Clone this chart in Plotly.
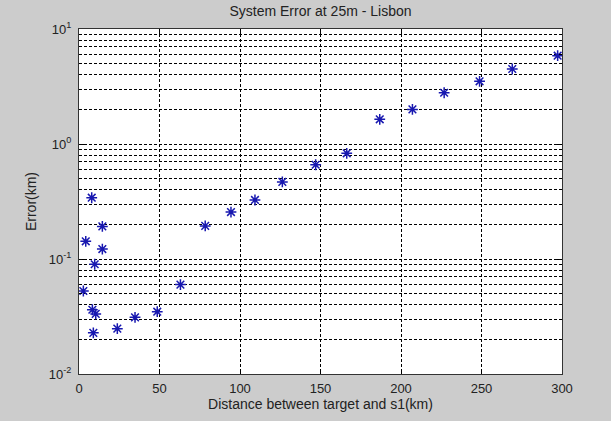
import plotly.graph_objects as go

distance_km = [2.7, 4.2, 7.9, 8.3, 8.9, 9.75, 10.4, 14.5, 14.5, 23.8, 34.8, 48.6,
               63.0, 78.4, 94.4, 109.3, 126.3, 147.0, 166.3, 186.8, 207.1, 226.8,
               248.8, 269.1, 297.3]
error_km = [0.0527, 0.1426, 0.341, 0.0362, 0.0228, 0.090, 0.0333, 0.192, 0.122,
            0.0248, 0.0311, 0.0348, 0.0599, 0.194, 0.256, 0.326, 0.468, 0.660,
            0.830, 1.64, 2.00, 2.79, 3.51, 4.49, 5.86]

x_ticks = [0, 50, 100, 150, 200, 250, 300]
y_major = [0.01, 0.1, 1, 10]
y_major_text = ["10<sup>-2</sup>", "10<sup>-1</sup>", "10<sup>0</sup>", "10<sup>1</sup>"]
y_minor = [m * d for d in [0.01, 0.1, 1] for m in range(2, 10)]

fig = go.Figure()
fig.add_trace(go.Scatter(
    x=distance_km, y=error_km, mode="markers",
    marker=dict(symbol="asterisk-open", size=9, color="#1818b0",
                line=dict(color="#1818b0", width=1.5)),
    showlegend=False,
))

font = dict(family="Liberation Sans, Arial, sans-serif", size=13, color="#222222")
grid = dict(showgrid=True, gridcolor="#000000", gridwidth=1, griddash="3px,2px")

fig.update_layout(
    width=611, height=421,
    margin=dict(l=79, r=49, t=29, b=47),
    paper_bgcolor="#cccccc", plot_bgcolor="#ffffff",
    font=font,
    title=dict(text="System Error at 25m - Lisbon", x=0.5, xref="paper",
               y=1, yref="container", yanchor="top", pad=dict(t=6),
               font=dict(family="Liberation Sans, Arial, sans-serif", size=14, color="#222222")),
    xaxis=dict(range=[0, 300], tickvals=x_ticks, ticks="inside", ticklen=5,
               tickcolor="#000000", showline=True, linecolor="#333333", linewidth=1,
               mirror="ticks", zeroline=False, ticklabelstandoff=2,
               title=dict(text="Distance between target and s1(km)", standoff=3,
                          font=dict(size=14)),
               **grid),
    yaxis=dict(type="log", range=[-2, 1], tickvals=y_major, ticktext=y_major_text,
               ticks="inside", ticklen=5, tickcolor="#000000", showline=True,
               linecolor="#333333", linewidth=1, mirror="ticks", zeroline=False,
               ticklabelstandoff=4,
               title=dict(text="Error(km)", standoff=8, font=dict(size=14)),
               minor=dict(tickvals=y_minor, ticks="inside", ticklen=3,
                          tickcolor="#000000", showgrid=True, gridcolor="#000000",
                          gridwidth=1, griddash="3px,2px"),
               **grid),
)

fig.write_html("out.html")
